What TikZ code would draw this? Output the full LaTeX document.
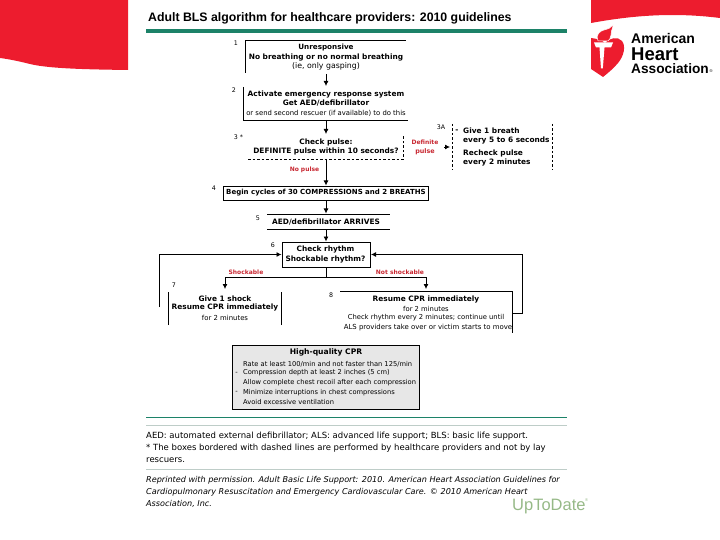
\documentclass[tikz,border=0pt]{standalone}
\usepackage{fontspec}
\setmainfont{DejaVu Sans}
\newfontfamily\logofont{Liberation Sans}
\usepackage{xcolor}
\usetikzlibrary{arrows.meta}
\definecolor{ahared}{RGB}{237,28,46}
\definecolor{rulegreen}{RGB}{28,130,104}
\definecolor{linkred}{RGB}{200,40,50}
\definecolor{paleline}{RGB}{190,205,200}
\definecolor{cprgray}{RGB}{231,231,231}
\definecolor{updategreen}{RGB}{150,185,135}
\begin{document}
\begin{tikzpicture}[x=1pt,y=-1pt]
        \tikzset{head/.style = {-{Latex[length=5pt,width=5pt]},line width=0.8pt}}
        \tikzset{wire/.style = {line width=0.8pt}}
        \tikzset{stepbox/.style = {line width=0.8pt}}
        \tikzset{dashbox/.style = {line width=0.8pt,dashed,dash pattern=on 2.5pt off 2pt}}
        \tikzset{txt/.style = {inner sep=0pt,align=center,font=\fontsize{7.4}{9.6}\selectfont\bfseries}}
        \tikzset{thin txt/.style = {inner sep=0pt,align=center,font=\fontsize{6.7}{9}\selectfont}}
        \tikzset{num/.style = {inner sep=0pt,font=\fontsize{6.3}{7}\selectfont}}
        \tikzset{redtxt/.style = {inner sep=0pt,text=linkred,font=\fontsize{6}{7}\selectfont\bfseries}}
        \tikzset{foot/.style = {inner sep=0pt,anchor=west,font=\fontsize{8.5}{10}\selectfont}}
        \tikzset{itfoot/.style = {inner sep=0pt,anchor=west,font=\fontsize{8.1}{10}\selectfont\itshape}}

        \useasboundingbox (0,0) rectangle (720,540);

        % red banners and logo
        \fill[ahared] (0,0) -- (128,0) -- (128,70) .. controls (95,69.5) and (50,69) .. (30,64) .. controls (18,61) and (8,59) .. (0,58) -- cycle;
        \fill[ahared] (591,0) -- (720,0) -- (720,18) .. controls (680,13) and (640,14) .. (591,23) -- cycle;
        \fill[ahared] (591,38) .. controls (596,38.5) and (602,40) .. (605,43) .. controls (609,38) and (618,36) .. (622,41) .. controls (626,46) and (624,56) .. (618,63) .. controls (614,68) and (608,73) .. (603,77) -- (591,69) -- cycle;
        \fill[white] (594,42.5) -- (613,42.5) -- (611,47.5) -- (604.5,47.5) -- (602.8,68.5) -- (601,68.5) -- (599.5,47.5) -- (596,47.5) -- cycle;
        \fill[ahared,draw=white,line width=0.5pt] (598,41) .. controls (595,35) and (600,31) .. (604,30) .. controls (608,29) and (611,28) .. (613,25) .. controls (613,30) and (610,31) .. (611,35) .. controls (611,38) and (609,40) .. (608,41) -- cycle;
        \node[inner sep=0pt,anchor=west,font=\logofont\bfseries\fontsize{14}{14}\selectfont] (logoa) at (631,38.5) {American};
        \node[inner sep=0pt,anchor=west,font=\logofont\bfseries\fontsize{18.5}{18.5}\selectfont] (logob) at (631,54) {Heart};
        \node[inner sep=0pt,anchor=west,font=\logofont\bfseries\fontsize{13.7}{13.7}\selectfont] (logoc) at (631,69) {Association};
        \node[inner sep=0pt,anchor=west,font=\logofont\fontsize{4}{4}\selectfont] (logor) at (709.5,71) {®};

        % title
        \node[inner sep=0pt,anchor=west,font=\logofont\bfseries\fontsize{12.3}{14}\selectfont] (title) at (148,18.5) {Adult BLS algorithm for healthcare providers: 2010 guidelines};
        \fill[rulegreen] (146,29.5) rectangle (567,33);

        % step boxes, open where the source is cropped
        \draw[stepbox] (245,73) -- (245,40.5) -- (406,40.5);
        \draw[stepbox] (243.5,87) -- (243.5,120) -- (408,120);
        \draw[dashbox] (248,159) -- (403.5,159) -- (403.5,135);
        \draw[dashbox] (452.5,124) -- (452.5,170);
        \draw[dashbox] (552.5,124) -- (552.5,170);
        \draw[stepbox] (223,186) rectangle (428,200.5);
        \draw[stepbox] (267,214) -- (390,214);
        \draw[stepbox] (267,229.5) -- (390,229.5);
        \draw[stepbox] (282.5,242) rectangle (370,267);
        \draw[stepbox] (168.5,325) -- (168.5,291.5);
        \draw[stepbox] (281,325) -- (281,291.5);
        \draw[stepbox] (340,291.5) -- (512.5,291.5) -- (512.5,333);
        \draw[stepbox,fill=cprgray] (232.5,345) rectangle (419.5,409);

        % named points for the connectors
        \coordinate (a1) at (326,74);
        \coordinate (b1) at (326,86);
        \coordinate (a2) at (326,120);
        \coordinate (b2) at (326,134);
        \coordinate (a3) at (326,159);
        \coordinate (b3) at (326,185.5);
        \coordinate (a4) at (326,200.5);
        \coordinate (b4) at (326,213.5);
        \coordinate (a5) at (326,229.5);
        \coordinate (b5) at (326,241.5);
        \coordinate (a6) at (326,267);
        \coordinate (j6) at (326,277);
        \coordinate (sl) at (225,277);
        \coordinate (sr) at (426,277);
        \coordinate (b7) at (225,289);
        \coordinate (b8) at (426,289);
        \coordinate (p3) at (444,147);
        \coordinate (q3) at (450,147);
        \coordinate (l0) at (159,307);
        \coordinate (l1) at (159,254.5);
        \coordinate (l2) at (281.5,254.5);
        \coordinate (r0) at (512.5,313);
        \coordinate (r1) at (522.5,313);
        \coordinate (r2) at (522.5,254.5);
        \coordinate (r3) at (371,254.5);

        \draw[head] (a1) -- (b1);
        \draw[head] (a2) -- (b2);
        \draw[head] (a3) -- (b3);
        \draw[head] (a4) -- (b4);
        \draw[head] (a5) -- (b5);
        \draw[wire] (a6) -- (j6);
        \draw[head] (j6) -- (sl) -- (b7);
        \draw[head] (j6) -- (sr) -- (b8);
        \draw[head] (p3) -- (q3);
        \draw[head] (l0) -- (l1) -- (l2);
        \draw[head] (r0) -- (r1) -- (r2) -- (r3);

        % step numbers
        \node[num] (n1) at (236,43) {1};
        \node[num] (n2) at (234,90) {2};
        \node[num] (n3) at (238.5,137.5) {3 *};
        \node[num] (n3a) at (441,127) {3A};
        \node[num] (n4) at (214,188.5) {4};
        \node[num] (n5) at (258,218) {5};
        \node[num] (n6) at (273,245.5) {6};
        \node[num] (n7) at (174,285) {7};
        \node[num] (n8) at (331,295) {8};

        % box texts
        \node[txt,font=\fontsize{7.2}{8}\selectfont\bfseries] (t1a) at (326,47.5) {Unresponsive};
        \node[txt] (t1b) at (326,57) {No breathing or no normal breathing};
        \node[thin txt,font=\fontsize{7.8}{9}\selectfont] (t1c) at (326,66.5) {(ie, only gasping)};
        \node[txt] (t2a) at (326,94) {Activate emergency response system};
        \node[txt] (t2b) at (326,103) {Get AED/defibrillator};
        \node[thin txt,font=\fontsize{6.85}{8}\selectfont] (t2c) at (326,113) {or send second rescuer (if available) to do this};
        \node[txt] (t3a) at (326,142) {Check pulse:};
        \node[txt] (t3b) at (326,151) {DEFINITE pulse within 10 seconds?};
        \node[txt,font=\fontsize{7}{8}\selectfont\bfseries] (t4) at (326,193) {Begin cycles of 30 COMPRESSIONS and 2 BREATHS};
        \node[txt] (t5) at (326,222) {AED/defibrillator ARRIVES};
        \node[txt] (t6) at (325.5,254.5) {Check rhythm\\Shockable rhythm?};
        \node[txt] (t7a) at (225,298.5) {Give 1 shock};
        \node[txt] (t7b) at (225,307.5) {Resume CPR immediately};
        \node[thin txt,font=\fontsize{6.9}{8}\selectfont] (t7c) at (225,317.5) {for 2 minutes};
        \node[txt] (t8a) at (426,299) {Resume CPR immediately};
        \node[thin txt,font=\fontsize{6.8}{8}\selectfont] (t8b) at (426,308.5) {for 2 minutes};
        \node[thin txt,font=\fontsize{6.8}{8}\selectfont] (t8c) at (426,318) {Check rhythm every 2 minutes; continue until};
        \node[thin txt,font=\fontsize{6.95}{8}\selectfont] (t8d) at (428,327.5) {ALS providers take over or victim starts to move};

        % box 3A
        \node[txt] (d3) at (457,131) {-};
        \node[txt,anchor=west] (g1) at (463,131) {Give 1 breath};
        \node[txt,anchor=west] (g2) at (463,140.5) {every 5 to 6 seconds};
        \node[txt,anchor=west] (g3) at (463,153) {Recheck pulse};
        \node[txt,anchor=west] (g4) at (463,162.5) {every 2 minutes};

        % red labels
        \node[redtxt] (rd1) at (425,142.5) {Definite};
        \node[redtxt,font=\fontsize{6.4}{7}\selectfont\bfseries] (rd2) at (425,152) {pulse};
        \node[redtxt] (rn) at (304.5,169.5) {No pulse};
        \node[redtxt] (rs) at (246,272) {Shockable};
        \node[redtxt] (rt) at (400,272) {Not shockable};

        % high-quality CPR
        \node[txt,font=\fontsize{7.6}{9}\selectfont\bfseries] (h0) at (326,352.5) {High-quality CPR};
        \node[thin txt,anchor=west] (h1) at (243,364) {Rate at least 100/min and not faster than 125/min};
        \node[thin txt,anchor=west] (h2) at (243,373) {Compression depth at least 2 inches (5 cm)};
        \node[thin txt,anchor=west] (h3) at (243,383) {Allow complete chest recoil after each compression};
        \node[thin txt,anchor=west] (h4) at (243,392.5) {Minimize interruptions in chest compressions};
        \node[thin txt,anchor=west] (h5) at (243,402) {Avoid excessive ventilation};
        \node[thin txt] (hd1) at (236.5,373) {-};
        \node[thin txt] (hd2) at (236.5,392.5) {-};

        % footnotes
        \fill[rulegreen] (146,416.5) rectangle (567,417.7);
        \fill[paleline] (146,425) rectangle (567,426);
        \node[foot] (f1) at (146,436) {AED: automated external defibrillator; ALS: advanced life support; BLS: basic life support.};
        \node[foot] (f2) at (146,448) {* The boxes bordered with dashed lines are performed by healthcare providers and not by lay};
        \node[foot] (f3) at (146,460.5) {rescuers.};
        \fill[paleline] (146,469) rectangle (567,470);
        \node[itfoot] (f4) at (146,480) {Reprinted with permission. Adult Basic Life Support: 2010. American Heart Association Guidelines for};
        \node[itfoot] (f5) at (146,492) {Cardiopulmonary Resuscitation and Emergency Cardiovascular Care. © 2010 American Heart};
        \node[itfoot] (f6) at (146,503.5) {Association, Inc.};
        \node[inner sep=0pt,anchor=west,text=updategreen,font=\logofont\fontsize{16.5}{16.5}\selectfont] (upd) at (512,507) {UpToDate};
        \node[inner sep=0pt,anchor=west,text=updategreen,font=\logofont\fontsize{4}{4}\selectfont] (updr) at (585,500.5) {®};
\end{tikzpicture}
\end{document}
